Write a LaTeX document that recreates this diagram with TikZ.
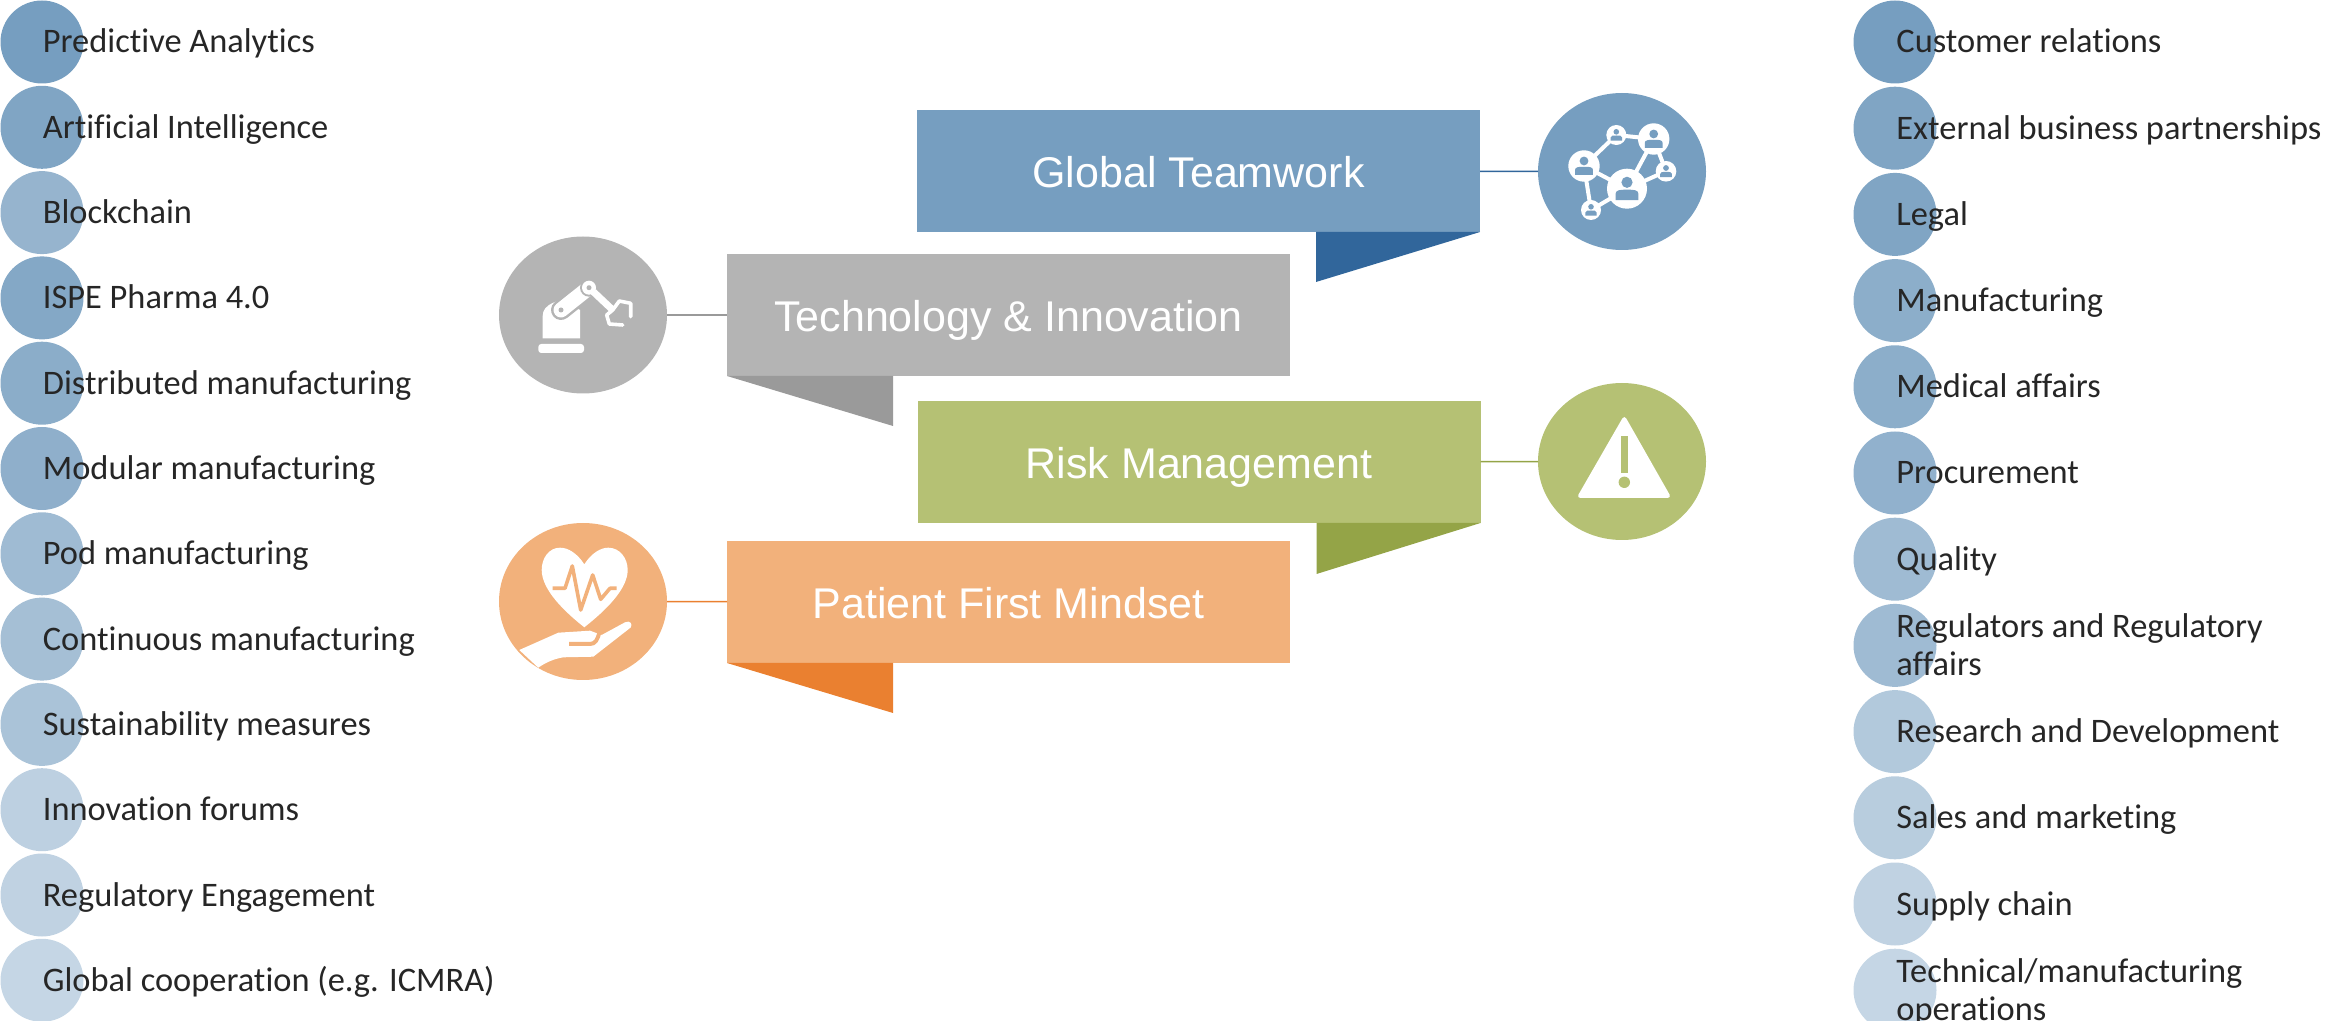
\documentclass[tikz,border=0pt]{standalone}
\usepackage{fontspec}
\setmainfont{Carlito}[Ligatures=CommonOff]
\newfontfamily\headfont{Liberation Sans}
\usetikzlibrary{%
  shapes.geometric,% wg. ellipse
  positioning%
}
\definecolor{Blue}{HTML}{769EC0}
\definecolor{BlueDark}{HTML}{31669B}
\definecolor{Grey}{HTML}{B4B4B4}
\definecolor{GreyDark}{HTML}{9A9A9A}
\definecolor{Green}{HTML}{B5C174}
\definecolor{GreenDark}{HTML}{94A447}
\definecolor{Orange}{HTML}{F2B17B}
\definecolor{OrangeDark}{HTML}{EA8030}
\definecolor{Ink}{HTML}{262626}

\begin{document}
\begin{tikzpicture}[x=.5pt,y=-.5pt]
  \useasboundingbox (0,0) rectangle (2326,1021);
  \begin{scope}[
    Dot/.style={circle,draw=none,minimum size=41.5pt,inner sep=0pt,outer sep=0pt},
    Item/.style={anchor=west,inner sep=0pt,align=left,text=Ink,yshift=-1.7pt,
      font=\fontsize{17.2}{19}\selectfont},
    Banner/.style={rectangle,minimum width=281.5pt,minimum height=61pt,inner sep=0pt,
      outer sep=0pt,text=white,text height=20pt,text depth=3.2pt,
      font=\headfont\fontsize{21.5}{26}\selectfont},
    Badge/.style={ellipse,minimum width=84pt,minimum height=78.5pt,inner sep=0pt,outer sep=0pt},
    Link/.style={line width=.7pt}]
    % left column
    \foreach \txt/\pct [count=\num] in {
      Predictive Analytics/100,Artificial Intelligence/93,Blockchain/77,
      ISPE Pharma 4.0/90,Distributed manufacturing/85,Modular manufacturing/82,
      Pod manufacturing/70,Continuous manufacturing/66,Sustainability measures/62,
      Innovation forums/48,Regulatory Engagement/46,Global cooperation (e.g. ICMRA)/42}{
      \node [Dot,fill=Blue!\pct!white] (Left\num) at (42,{42+(\num-1)*85.3}) {};
      \node [Item] (LeftText\num) at (42.5,{42+(\num-1)*85.3}) {\strut\txt};
    }
    % right column
    \foreach \txt/\pct [count=\num] in {
      Customer relations/100,External business partnerships/93,Legal/93,
      Manufacturing/84,Medical affairs/84,Procurement/80,Quality/70,
      {Regulators and Regulatory\\\strut affairs}/70,Research and Development/56,
      Sales and marketing/52,Supply chain/46,{Technical/manufacturing\\\strut operations}/42}{
      \node [Dot,fill=Blue!\pct!white] (Right\num) at (1895,{42+(\num-1)*86.2}) {};
      \node [Item] (RightText\num) at (1896,{42+(\num-1)*86.2}) {\strut\txt};
    }
    % banners
    \node [Banner,fill=Blue] (Teamwork) at (1198.5,171) {Global Teamwork};
    \node [Banner,fill=Grey] (Technology) at (1008.5,315) {Technology \& Innovation};
    \node [Banner,fill=Green] (Risk) at (1199,462) {Risk Management};
    \node [Banner,fill=Orange] (Patient) at (1008.5,602) {Patient First Mindset};
    \fill [BlueDark] (Teamwork.south east) -- ++(-164,50) -- ++(0,-50) -- cycle;
    \fill [GreyDark] (Technology.south west) -- ++(166,50) -- ++(0,-50) -- cycle;
    \fill [GreenDark] (Risk.south east) -- ++(-164,51) -- ++(0,-51) -- cycle;
    \fill [OrangeDark] (Patient.south west) -- ++(166,50) -- ++(0,-50) -- cycle;
    % badges
    \node [Badge,fill=Blue] (TeamworkIcon) at (1622,171.5) {};
    \node [Badge,fill=Grey] (TechnologyIcon) at (583,315) {};
    \node [Badge,fill=Green] (RiskIcon) at (1622,461.5) {};
    \node [Badge,fill=Orange] (PatientIcon) at (583,601.5) {};
    \draw [Link,draw=BlueDark] (Teamwork) -- (TeamworkIcon);
    \draw [Link,draw=GreyDark] (Technology) -- (TechnologyIcon);
    \draw [Link,draw=GreenDark] (Risk) -- (RiskIcon);
    \draw [Link,draw=OrangeDark] (Patient) -- (PatientIcon);
    % network icon
    \draw [white,line width=2pt]
      (1584,166) -- (1616.3,135) -- (1653.7,139) -- (1666,171.3) -- (1627,188.7)
      -- (1591,210) -- (1584,166) -- (1627,188.7) -- (1653.7,139);
    \foreach \px/\py/\pr in {1584/166/15.7,1616.3/135/10,1653.7/139/15.7,
      1666/171.3/10.3,1627/188.7/20,1591/210/10}{
      \fill [white] (\px,\py) circle (\pr);
      \fill [Blue] (\px,\py-.32*\pr) circle (.28*\pr);
      \fill [Blue] (\px-.57*\pr,\py+.57*\pr) -- (\px-.57*\pr,\py+.25*\pr)
        .. controls (\px-.57*\pr,\py+.05*\pr) and (\px-.3*\pr,\py+.05*\pr) .. (\px,\py+.05*\pr)
        .. controls (\px+.3*\pr,\py+.05*\pr) and (\px+.57*\pr,\py+.05*\pr) .. (\px+.57*\pr,\py+.25*\pr)
        -- (\px+.57*\pr,\py+.57*\pr) -- cycle;
    }
    % robot icon
    \fill [white,rounded corners=1.5pt] (538.3,353) -- (538.3,344) -- (584,344) -- (584,353) -- cycle;
    \fill [white] (542.7,338.3) -- (580,338.3) -- (580,310) -- (560,300) -- (553.3,302.7)
      .. controls (546,306) and (542.7,310) .. (542.7,316) -- cycle;
    \draw [Grey,line width=10pt,line cap=round] (561,310) -- (589,287.7);
    \draw [white,line width=7.5pt,line cap=round] (561,310) -- (589,287.7);
    \fill [Grey] (561,310) circle (2.5);
    \fill [Grey] (589,287.7) circle (9);
    \fill [white] (589,287.7) circle (7);
    \fill [Grey] (589,287.7) circle (2.5);
    \draw [white,line width=3.5pt] (593.3,291.7) -- (612.7,310);
    \draw [white,line width=1.8pt,line join=round,line cap=round]
      (612.7,310) -- (619.3,301) -- (630.7,303.3) -- (630.7,316.7);
    \draw [white,line width=1.8pt,line join=round,line cap=round]
      (612.7,310) -- (606.7,315) -- (609.3,324) -- (622.7,325);
    % warning icon
    \fill [white,rounded corners=2pt] (1624.3,415) -- (1671.5,498) -- (1576.5,498) -- cycle;
    \fill [Green] (1621.3,435.7) rectangle (1627.7,472.7);
    \fill [Green] (1624.3,482.3) circle (5.7);
    % heart and hand icon
    \fill [white] (584.3,564.3) .. controls (577,553) and (568,547.7) .. (560,547.7)
      .. controls (549,547.7) and (541.7,558) .. (541.7,570)
      .. controls (541.7,590) and (565,612) .. (584.3,627.3)
      .. controls (603.6,612) and (627.7,590) .. (627.7,570)
      .. controls (627.7,558) and (619.6,547.7) .. (608.3,547.7)
      .. controls (600.6,547.7) and (591.6,553) .. (584.3,564.3) -- cycle;
    \draw [Orange,line width=1.8pt,line join=round]
      (552.7,588.3) -- (565,588.3) -- (572.3,566) -- (580.7,610) -- (592.7,575)
      -- (600.7,599.3) -- (610,588.3) -- (616.7,588.3);
    \fill [white] (519.3,650) -- (558.3,632.7) -- (590,630.7) -- (601.7,635) -- (625,622.3)
      .. controls (630,620) and (633,624) .. (630.7,627.5)
      -- (593.3,656.7) -- (563.3,657.3) .. controls (553,659) and (545,663) .. (538.3,667.7) -- cycle;
    \draw [Orange,line width=2pt] (569,644) -- (590,644)
      .. controls (595,644) and (598,640) .. (599.5,631);
  \end{scope}
\end{tikzpicture}
\end{document}
